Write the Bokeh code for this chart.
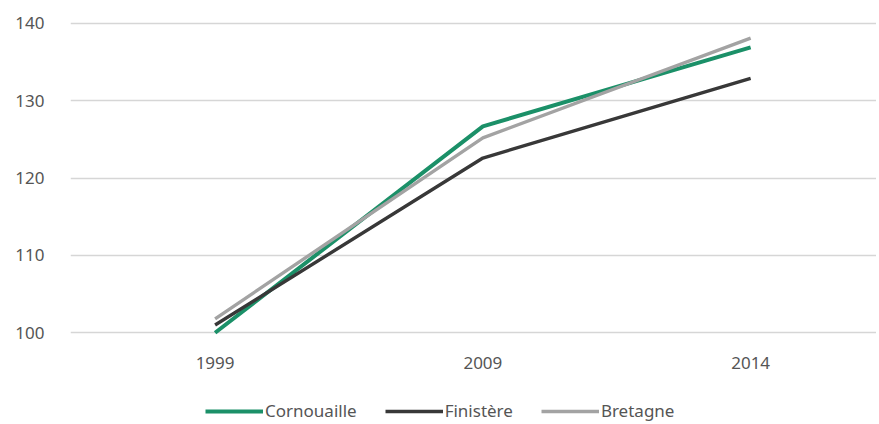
from bokeh.plotting import figure
from bokeh.layouts import column
from bokeh.models import Legend, LegendItem, FixedTicker, Range1d
from bokeh.embed import file_html
from bokeh.resources import INLINE

years = ["1999", "2009", "2014"]
cornouaille = [100.0, 126.7, 136.9]
finistere = [101.0, 122.6, 132.9]
bretagne = [101.8, 125.2, 138.1]
y_ticks = [100, 110, 120, 130, 140]
series_names = ["Cornouaille", "Finistère", "Bretagne"]

xs = list(range(len(years)))

font = "Noto Sans"
tc = "#555555"
colors = ["#1b9068", "#383838", "#a3a3a3"]
widths = [4, 3.4, 3.4]

p = figure(width=876, height=378, output_backend="svg", toolbar_location=None,
           x_range=Range1d(-0.54, 2.47), y_range=Range1d(99.0, 140.9),
           min_border_left=70, min_border_right=0, min_border_top=16, min_border_bottom=38)
p.outline_line_color = None
p.background_fill_color = "white"

for vals, c, w in zip([cornouaille, finistere, bretagne], colors, widths):
    p.line(xs, vals, line_color=c, line_width=w)

p.xaxis.ticker = FixedTicker(ticks=xs)
p.xaxis.major_label_overrides = {i: y for i, y in enumerate(years)}
p.yaxis.ticker = FixedTicker(ticks=y_ticks)
for ax in (p.xaxis[0], p.yaxis[0]):
    ax.axis_line_color = None
    ax.major_tick_line_color = None
    ax.minor_tick_line_color = None
    ax.major_label_text_font = font
    ax.major_label_text_font_size = "17px"
    ax.major_label_text_color = tc
p.yaxis.major_label_standoff = 20
p.xaxis.major_label_standoff = 10

p.xgrid.grid_line_color = None
p.ygrid.grid_line_color = "#d6d6d6"
p.ygrid.grid_line_width = 1.5
p.ygrid.ticker = FixedTicker(ticks=y_ticks)

# Legend strip below the chart (proxy lines lie outside the visible range)
p2 = figure(width=876, height=46, output_backend="svg", toolbar_location=None,
            x_range=Range1d(0, 1), y_range=Range1d(0, 1),
            x_axis_type=None, y_axis_type=None,
            min_border_left=0, min_border_right=0, min_border_top=0, min_border_bottom=0)
p2.outline_line_color = None
p2.xgrid.grid_line_color = None
p2.ygrid.grid_line_color = None
items = []
for name, c, w in zip(series_names, colors, widths):
    r = p2.line(x=[-5, -4], y=[-5, -4], line_color=c, line_width=w)
    items.append(LegendItem(label=name, renderers=[r]))

legend = Legend(items=items, orientation="horizontal", location=(135, 2),
                glyph_width=58, glyph_height=20, label_standoff=2, spacing=28,
                border_line_color=None, background_fill_alpha=0,
                label_text_font=font, label_text_font_size="17px",
                label_text_color=tc, margin=0, padding=0)
p2.add_layout(legend, "center")

open("out.html", "w").write(file_html(column(p, p2, spacing=0), INLINE))
